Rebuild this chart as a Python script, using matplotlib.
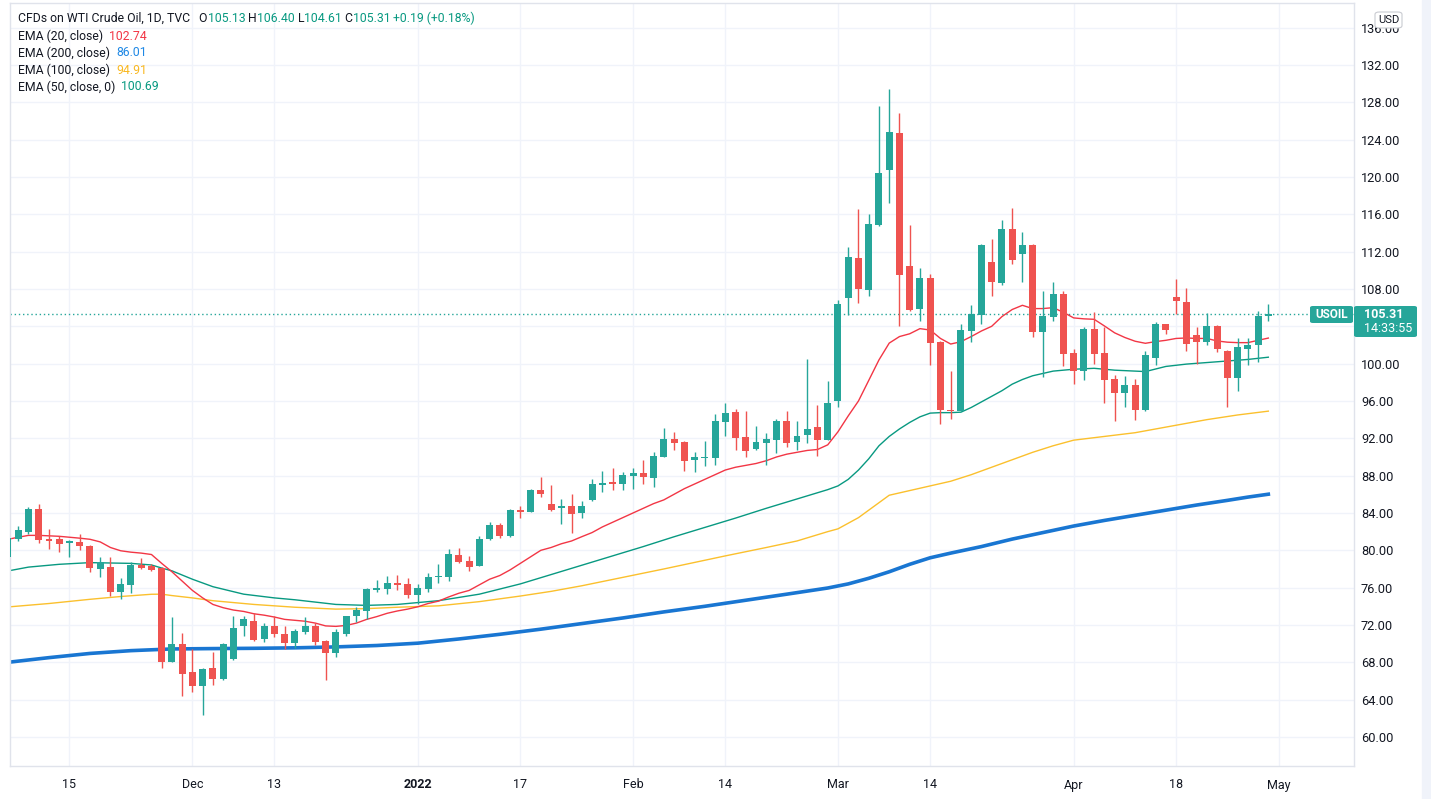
import matplotlib
matplotlib.use("Agg")
import matplotlib.pyplot as plt
from matplotlib.patches import FancyBboxPatch, Rectangle
import numpy as np

# daily candles, 5 Nov 2021 .. 29 Apr 2022
opens = [79.3, 81.2, 81.96, 84.4, 81.2, 81.2, 80.75, 80.9, 80.45, 78.0,
         78.2, 75.5, 76.3, 78.4, 78.35, 78.07, 68.07, 69.96, 66.96, 65.5,
         67.39, 66.25, 68.4, 71.86, 72.43, 70.54, 71.89, 71.0, 70.1, 71.3,
         71.9, 70.29, 69.0, 71.07, 72.96, 73.54, 75.8, 75.86, 76.5, 76.4,
         75.25, 75.86, 77.1, 77.1, 79.5, 78.86, 78.36, 81.2, 82.7, 81.5,
         84.3, 84.14, 86.46, 84.96, 84.5, 84.75, 84.0, 85.4, 87.0, 87.3,
         87.1, 87.96, 88.3, 87.75, 90.0, 91.9, 91.6, 89.7, 89.9, 89.9,
         93.8, 94.8, 92.1, 90.9, 91.5, 91.86, 93.86, 91.6, 92.4, 93.2,
         91.86, 96.0, 107.06, 111.3, 107.9, 114.9, 120.7, 124.7, 110.5, 105.9,
         109.2, 102.3, 95.07, 94.96, 103.54, 105.25, 110.9, 108.6, 114.4, 111.7,
         112.7, 103.4, 105.04, 107.46, 101.1, 99.25, 103.7, 101.1, 98.36, 96.9,
         97.7, 95.04, 100.6, 104.25, 107.14, 106.6, 103.07, 102.36, 104.04, 101.4,
         98.5, 101.6, 102.04, 105.13]
highs = [81.5, 82.6, 84.67, 84.96, 82.3, 81.5, 81.1, 81.75, 80.6, 79.3,
         79.3, 77.0, 78.75, 79.2, 78.5, 78.2, 72.86, 71.14, 69.43, 67.4,
         69.1, 70.07, 72.96, 72.96, 73.29, 72.18, 72.96, 71.9, 71.57, 72.86,
         72.2, 70.4, 71.6, 73.0, 73.93, 76.0, 76.8, 77.25, 77.4, 77.0,
         76.4, 77.6, 78.5, 80.14, 80.3, 79.4, 81.5, 83.0, 82.96, 84.4,
         84.7, 86.6, 87.9, 87.0, 85.5, 86.0, 85.3, 87.6, 88.5, 88.8,
         88.4, 88.8, 89.7, 90.5, 93.1, 92.7, 91.7, 90.5, 91.7, 94.6,
         95.8, 95.1, 94.9, 93.3, 92.6, 94.07, 94.9, 93.86, 100.5, 95.6,
         98.1, 106.85, 112.5, 116.6, 116.0, 127.6, 129.4, 126.9, 114.86, 110.25,
         109.64, 102.4, 99.2, 104.2, 106.3, 112.8, 113.36, 115.4, 116.7, 114.1,
         112.8, 107.8, 108.75, 107.8, 101.6, 103.9, 105.5, 103.9, 98.8, 98.7,
         98.36, 101.4, 104.5, 104.3, 109.07, 108.1, 103.9, 105.4, 104.14, 101.5,
         102.8, 102.8, 105.64, 106.4]
lows = [79.0, 81.0, 81.75, 80.8, 80.1, 79.8, 79.3, 80.0, 77.7, 77.1,
        75.1, 74.8, 75.4, 78.0, 77.8, 67.4, 68.0, 64.39, 64.82, 62.36,
        65.57, 66.1, 68.3, 70.86, 70.3, 70.21, 70.75, 69.4, 69.5, 71.07,
        69.9, 66.14, 68.6, 70.86, 72.3, 72.6, 75.5, 75.3, 75.7, 74.9,
        74.3, 75.5, 76.5, 76.75, 78.6, 77.8, 78.3, 81.1, 81.3, 81.4,
        83.5, 84.1, 85.7, 84.2, 82.8, 81.9, 83.5, 85.3, 86.25, 86.5,
        86.5, 86.6, 87.1, 86.8, 90.0, 90.75, 88.5, 88.4, 89.0, 89.1,
        92.2, 90.7, 90.0, 90.7, 89.1, 90.4, 91.1, 90.7, 91.5, 90.1,
        91.8, 95.4, 105.25, 106.5, 107.3, 114.8, 117.25, 104.07, 105.6, 104.6,
        99.9, 93.57, 94.1, 94.9, 102.35, 104.2, 107.2, 108.46, 110.7, 108.8,
        102.9, 98.6, 104.6, 99.7, 97.85, 98.2, 100.0, 95.8, 93.9, 95.4,
        93.96, 94.9, 99.9, 103.2, 105.36, 101.4, 100.0, 102.0, 101.2, 95.4,
        97.1, 99.9, 100.2, 104.61]
closes = [81.3, 82.2, 84.4, 81.1, 81.0, 80.7, 80.95, 80.5, 78.1, 78.7,
          75.5, 76.4, 78.4, 78.1, 77.9, 68.07, 69.96, 66.75, 65.5, 67.28,
          66.25, 69.96, 71.68, 72.68, 70.43, 71.89, 71.07, 70.1, 71.36, 71.9,
          70.2, 69.0, 71.25, 72.96, 73.6, 75.86, 76.0, 76.5, 76.3, 75.25,
          75.96, 77.14, 77.2, 79.6, 78.8, 78.25, 81.2, 82.7, 81.5, 84.3,
          84.1, 86.46, 86.0, 84.3, 84.75, 83.9, 84.7, 87.1, 87.2, 87.1,
          88.1, 88.3, 87.9, 90.1, 91.9, 91.5, 89.6, 90.0, 90.0, 93.86,
          94.7, 92.07, 90.6, 91.6, 91.9, 93.86, 91.5, 92.25, 93.0, 91.86,
          95.8, 106.4, 111.43, 108.0, 114.96, 120.4, 124.8, 109.5, 105.8, 109.2,
          102.25, 95.07, 94.96, 103.6, 105.36, 112.75, 108.7, 114.4, 111.14, 112.7,
          103.4, 105.1, 107.46, 101.07, 99.25, 103.7, 101.07, 98.3, 96.9, 97.7,
          95.04, 100.9, 104.25, 103.64, 106.75, 102.14, 102.36, 104.04, 101.6, 98.5,
          101.75, 102.04, 105.1, 105.31]

# EMA 20, one value per candle
ema20 = [81.18, 81.4, 81.6, 81.6, 81.55, 81.5, 81.4, 81.3, 81.18, 80.9,
         80.3, 79.95, 79.8, 79.7, 79.55, 78.6, 77.7, 76.7, 75.7, 74.9,
         74.2, 73.85, 73.6, 73.45, 73.2, 73.05, 72.85, 72.6, 72.5, 72.4,
         72.2, 71.9, 71.85, 71.95, 72.2, 72.6, 72.9, 73.25, 73.5, 73.7,
         73.95, 74.3, 74.55, 75.0, 75.4, 75.7, 76.3, 76.9, 77.3, 77.9,
         78.6, 79.3, 80.0, 80.3, 80.7, 81.0, 81.46, 81.9, 82.5, 83.0,
         83.5, 84.0, 84.5, 85.0, 85.4, 86.0, 86.6, 87.1, 87.6, 88.1,
         88.6, 88.9, 89.1, 89.3, 89.6, 90.0, 90.3, 90.5, 90.7, 90.8,
         91.3, 92.7, 94.4, 96.0, 98.2, 100.4, 102.2, 102.9, 103.2, 103.75,
         103.6, 102.7, 102.1, 102.35, 102.9, 103.5, 104.0, 105.04, 105.8, 106.25,
         105.9, 105.9, 106.0, 105.5, 104.9, 104.8, 104.75, 104.04, 103.3, 102.8,
         102.4, 102.18, 102.36, 102.5, 102.7, 102.75, 102.7, 102.7, 102.43, 102.3,
         102.25, 102.25, 102.5, 102.74]

# slower EMAs (candle index, value)
ema50_idx = [0, 2, 5, 8, 12, 14, 15, 16, 18, 20, 23, 26, 28, 32, 35, 38, 42, 46, 50, 53,
             56, 59, 62, 65, 68, 71, 74, 77, 80, 81, 82, 83, 84, 85, 86, 87, 88, 89, 90, 91,
             92, 93, 94, 95, 96, 97, 98, 99, 100, 102, 104, 106, 108, 110, 111, 113, 115, 118,
             121, 123]
ema50_val = [77.79, 78.2, 78.5, 78.68, 78.6, 78.43, 78.1, 77.8, 76.9, 76.1, 75.3, 74.9, 74.7,
             74.2, 74.1, 74.2, 74.6, 75.3, 76.4, 77.4, 78.4, 79.4, 80.4, 81.45, 82.45, 83.45,
             84.5, 85.5, 86.5, 86.9, 87.6, 88.6, 89.8, 91.2, 92.2, 93.0, 93.7, 94.3, 94.7,
             94.75, 94.75, 94.8, 95.3, 95.9, 96.5, 97.1, 97.8, 98.3, 98.7, 99.2, 99.4, 99.5,
             99.3, 99.2, 99.15, 99.7, 99.95, 100.2, 100.45, 100.69]
ema100_idx = [0, 4, 8, 11, 14, 15, 16, 18, 20, 24, 28, 32, 35, 38, 42, 46, 50, 53, 56, 60,
              64, 67, 70, 74, 77, 80, 81, 82, 83, 84, 85, 86, 88, 90, 92, 94, 96, 98, 100,
              102, 104, 107, 110, 113, 117, 120, 123]
ema100_val = [73.93, 74.3, 74.75, 75.05, 75.29, 75.3, 75.15, 74.9, 74.6, 74.2, 73.9, 73.7,
              73.75, 73.9, 74.05, 74.5, 75.1, 75.6, 76.2, 77.1, 78.0, 78.7, 79.4, 80.3, 81.0,
              82.0, 82.3, 82.9, 83.5, 84.3, 85.1, 85.9, 86.4, 86.9, 87.4, 88.1, 88.9, 89.7,
              90.5, 91.2, 91.8, 92.2, 92.6, 93.2, 94.0, 94.5, 94.91]
ema200_idx = [0, 4, 8, 12, 16, 20, 24, 28, 32, 36, 40, 44, 48, 52, 56, 60, 64, 68, 72, 76,
              80, 82, 84, 86, 88, 90, 92, 95, 98, 101, 104, 107, 110, 113, 116, 119, 121, 123]
ema200_val = [68.0, 68.5, 68.95, 69.25, 69.43, 69.47, 69.5, 69.55, 69.65, 69.8, 70.05, 70.5,
              71.0, 71.55, 72.15, 72.75, 73.4, 74.0, 74.65, 75.3, 75.96, 76.4, 77.0, 77.7,
              78.5, 79.2, 79.7, 80.4, 81.2, 81.9, 82.6, 83.2, 83.75, 84.3, 84.85, 85.35, 85.7,
              86.01]

tick_idx = [6, 18, 26, 40, 50, 61, 70, 81, 90, 104, 114, 124]
tick_labels = ['15', 'Dec', '13', '2022', '17', 'Feb', '14', 'Mar', '14', 'Apr', '18', 'May']

last_price = 105.31

UP = '#26a69a'
DOWN = '#ef5350'
TXT = '#131722'

plt.rcParams['font.family'] = ['Roboto', 'DejaVu Sans']

W, H = 1431, 799
fig = plt.figure(figsize=(W / 100, H / 100), dpi=100)
ax = fig.add_axes([10 / W, 1 - 766 / H, (1354 - 10) / W, (766 - 3) / H])

x = np.arange(len(closes))
o = np.array(opens)
c = np.array(closes)
colors = np.where(c >= o, UP, DOWN)

# candles: wicks + bodies
ax.vlines(x, lows, highs, colors=colors, linewidth=1, zorder=3)
ax.bar(x, np.maximum(np.abs(c - o), 0.12), bottom=np.minimum(o, c), width=0.68,
       color=colors, linewidth=0, zorder=4)

# moving averages
ax.plot(ema200_idx, ema200_val, color='#1976d2', lw=2.6, zorder=2, solid_joinstyle='round')
ax.plot(ema100_idx, ema100_val, color='#fbc02d', lw=1, zorder=2)
ax.plot(ema50_idx, ema50_val, color='#089981', lw=1, zorder=2)
ax.plot(x, ema20, color='#f23645', lw=1, zorder=2)

# last price line
ax.axhline(last_price, color=UP, lw=1, ls=(0, (1, 2)), zorder=1)

ax.set_xlim(0.195, 131.36)
ax.set_ylim(56.89, 138.64)

yt = np.arange(60, 137, 4)
ax.set_yticks(yt)
# 104.00 sits under the price label on the original
ax.set_yticklabels(['' if v == 104 else '%.2f' % v for v in yt])
ax.yaxis.tick_right()
ax.tick_params(axis='y', length=0, pad=5, labelsize=9.2, labelcolor=TXT)

ax.set_xticks(tick_idx)
ax.set_xticklabels(tick_labels)
ax.tick_params(axis='x', length=0, pad=9, labelsize=9, labelcolor=TXT)
for lab in ax.get_xticklabels():
    if lab.get_text() == '2022':
        lab.set_fontweight('bold')

ax.grid(color='#f0f3fa', lw=1, zorder=0)
ax.set_axisbelow(True)
for s in ax.spines.values():
    s.set_color('#e0e3eb')
    s.set_linewidth(1)

# right strip of the price scale panel
fig.patches.append(Rectangle((1422 / W, 0), 9 / W, 1, transform=fig.transFigure,
                             color='#f0f3fa', zorder=0))

# USD badge
fig.patches.append(FancyBboxPatch((1375 / W, 1 - 28 / H), 27 / W, 16 / H,
                                  boxstyle='round,pad=0,rounding_size=0.003',
                                  transform=fig.transFigure, fc='white', ec='#c9cbd1',
                                  lw=0.8, zorder=5))
fig.text(1388.5 / W, 1 - 20 / H, 'USD', ha='center', va='center', fontsize=8,
         color=TXT, zorder=6)

# symbol + price labels
fig.patches.append(FancyBboxPatch((1310 / W, 1 - 323 / H), 43 / W, 17 / H,
                                  boxstyle='round,pad=0,rounding_size=0.002',
                                  transform=fig.transFigure, fc=UP, ec='none', zorder=5))
fig.text(1331.5 / W, 1 - 314.5 / H, 'USOIL', ha='center', va='center', fontsize=8.5,
         color='white', weight='bold', zorder=6)
fig.patches.append(FancyBboxPatch((1354 / W, 1 - 337 / H), 63 / W, 31 / H,
                                  boxstyle='round,pad=0,rounding_size=0.002',
                                  transform=fig.transFigure, fc=UP, ec='none', zorder=5))
fig.text(1364 / W, 1 - 314 / H, '%.2f' % last_price, ha='left', va='center', fontsize=9,
         color='white', weight='bold', zorder=6)
fig.text(1364 / W, 1 - 329 / H, '14:33:55', ha='left', va='center', fontsize=9,
         color='white', zorder=6)

# legend text, pieces in different colours
renderer = fig.canvas.get_renderer()


def draw_pieces(xp, yp, pieces, size=8.8):
    for txt, col in pieces:
        t = fig.text(xp / W, 1 - yp / H, txt, color=col, fontsize=size,
                     ha='left', va='center')
        xp += t.get_window_extent(renderer=renderer).width


VAL = '#089981'
draw_pieces(18, 18, [('CFDs on WTI Crude Oil, 1D, TVC', TXT), ('   O', TXT), ('105.13', VAL),
                     (' H', TXT), ('106.40', VAL), (' L', TXT), ('104.61', VAL),
                     (' C', TXT), ('105.31', VAL), (' +0.19 (+0.18%)', VAL)])
draw_pieces(18, 36, [('EMA (20, close)  ', TXT), ('102.74', '#f23645')])
draw_pieces(18, 53, [('EMA (200, close)  ', TXT), ('86.01', '#1e88e5')])
draw_pieces(18, 70, [('EMA (100, close)  ', TXT), ('94.91', '#f9b821')])
draw_pieces(18, 87, [('EMA (50, close, 0)  ', TXT), ('100.69', VAL)])

fig.savefig('out.png', dpi=100, facecolor='white')
